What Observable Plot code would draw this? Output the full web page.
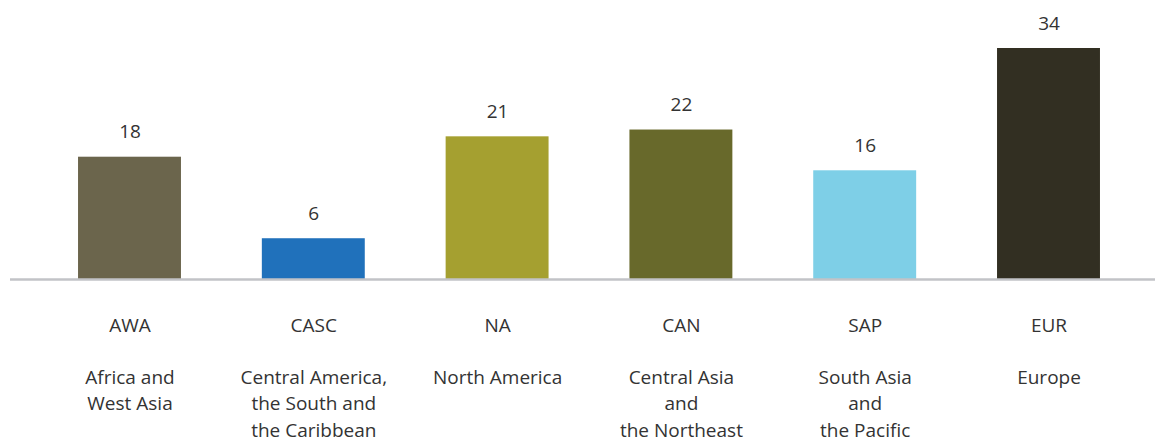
<!DOCTYPE html>
<html>
<head>
<meta charset="utf-8">
<script src="https://cdn.jsdelivr.net/npm/d3@7"></script>
<script src="https://cdn.jsdelivr.net/npm/@observablehq/plot@0.6"></script>
<style>
  html, body { margin: 0; padding: 0; background: #fff; }
  #chart svg { display: block; }
</style>
</head>
<body>
<div id="chart"></div>
<script>
const codes = ["AWA", "CASC", "NA", "CAN", "SAP", "EUR"];
const names = [
  "Africa and\nWest Asia",
  "Central America,\nthe South and\nthe Caribbean",
  "North America",
  "Central Asia\nand\nthe Northeast",
  "South Asia\nand\nthe Pacific",
  "Europe"
];
const values = [18, 6, 21, 22, 16, 34];

const palette = ["#6b654c", "#2071bb", "#a5a030", "#68692b", "#7ecfe7", "#322f22"];

const data = codes.map((c, i) => ({code: c, name: names[i], value: values[i]}));

const font = "'Open Sans', sans-serif";
const fs = 19;

const chart = Plot.plot({
  width: 1155,
  height: 439,
  marginLeft: 37.6,
  marginRight: 14.6,
  marginTop: 48,
  marginBottom: 160,
  style: {fontFamily: font, color: "#333", background: "#fff", overflow: "visible"},
  x: {domain: codes, paddingInner: 0.44, paddingOuter: 0.22, round: false, label: null},
  y: {domain: [0, 34], axis: null},
  color: {domain: codes, range: palette},
  marks: [
    Plot.barY(data, {x: "code", y: "value", fill: "code"}),
    Plot.ruleY([0], {stroke: "#c2c3c7", strokeWidth: 2.5, insetLeft: -27.6, insetRight: -14.6}),
    Plot.text(data, {x: "code", y: "value", text: d => String(d.value), dy: -19, fontSize: fs, fill: "#333", lineAnchor: "bottom"}),
    Plot.axisX({
      tickSize: 0,
      tickPadding: 38.8,
      fontSize: fs,
      fill: "#333",
      label: null
    }),
    Plot.text(data, {
      x: "code",
      text: "name",
      frameAnchor: "bottom",
      lineAnchor: "top",
      lineHeight: 26.5 / fs,
      dy: 85.4,
      fontSize: fs,
      fill: "#333"
    })
  ]
});
document.getElementById("chart").appendChild(chart);
</script>
</body>
</html>
